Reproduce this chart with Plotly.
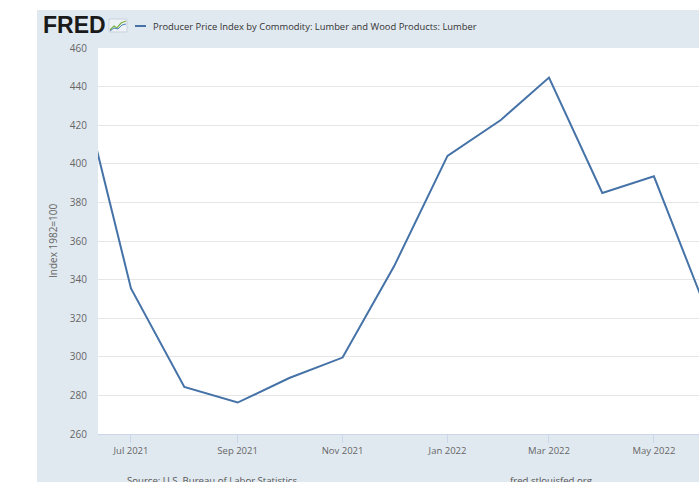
import plotly.graph_objects as go

# ---- data ----
dates = ["2021-06-01", "2021-07-01", "2021-08-01", "2021-09-01", "2021-10-01",
         "2021-11-01", "2021-12-01", "2022-01-01", "2022-02-01", "2022-03-01",
         "2022-04-01", "2022-05-01", "2022-06-01"]
values = [444.0, 335.4, 284.4, 276.3, 289.0, 299.6, 347.0, 404.1, 422.7, 444.7,
          384.9, 393.5, 323.0]
series_name = "Producer Price Index by Commodity: Lumber and Wood Products: Lumber"
y_title = "Index 1982=100"
source_text = "Source: U.S. Bureau of Labor Statistics"
site_text = "fred.stlouisfed.org"

W, H = 699, 482
L, R, T, B = 98, 0, 48, 48
PW, PH = W - L - R, H - T - B

def px(x):
    return (x - L) / PW

def py(y):
    return (H - B - y) / PH

BG = "#e1e9f0"
LINE = "#4572a7"
TXT = "#666666"
FONT = "Open Sans"

fig = go.Figure()
fig.add_trace(go.Scatter(x=dates, y=values, mode="lines",
                         line=dict(color=LINE, width=2), name=series_name,
                         showlegend=False, cliponaxis=True))

shapes = [
    # white border strips outside the FRED panel
    dict(type="rect", xref="paper", yref="paper", x0=px(0), x1=px(37), y0=py(H), y1=py(0),
         fillcolor="white", line=dict(width=0), layer="above"),
    dict(type="rect", xref="paper", yref="paper", x0=px(0), x1=px(W), y0=py(10), y1=py(0),
         fillcolor="white", line=dict(width=0), layer="above"),
    # legend line sample
    dict(type="line", xref="paper", yref="paper", x0=px(135), x1=px(146), y0=py(26), y1=py(26),
         line=dict(color=LINE, width=2)),
    # FRED icon
    dict(type="rect", xref="paper", yref="paper", x0=px(109), x1=px(127), y0=py(32), y1=py(19),
         fillcolor="#eef2f6", line=dict(color="#c9d3dd", width=1)),
    dict(type="path", xref="paper", yref="paper",
         path=f"M {px(110)} {py(30)} L {px(114)} {py(26)} L {px(117)} {py(28)} L {px(121)} {py(23)} L {px(126)} {py(21)}",
         line=dict(color="#7cb342", width=1.3)),
    dict(type="path", xref="paper", yref="paper",
         path=f"M {px(110)} {py(31)} L {px(114)} {py(28)} L {px(118)} {py(29)} L {px(122)} {py(25)} L {px(126)} {py(24)}",
         line=dict(color="#4f81bd", width=1)),
]

annotations = [
    dict(text="<b>FRED</b>", xref="paper", yref="paper", x=px(41), y=py(25),
         xanchor="left", yanchor="middle", showarrow=False,
         font=dict(family="Liberation Sans", size=23, color="#1a1a1a")),
    dict(text=series_name, xref="paper", yref="paper", x=px(151), y=py(26),
         xanchor="left", yanchor="middle", showarrow=False,
         font=dict(family=FONT, size=9.4, color="#333333")),
    dict(text=y_title, xref="paper", yref="paper", x=px(53), y=py(241),
         xanchor="center", yanchor="middle", showarrow=False, textangle=-90,
         font=dict(family=FONT, size=10, color=TXT)),
    dict(text=source_text, xref="paper", yref="paper", x=px(125), y=py(472),
         xanchor="left", yanchor="top", showarrow=False,
         font=dict(family=FONT, size=9.6, color="#555555")),
    dict(text=site_text, xref="paper", yref="paper", x=px(508), y=py(472),
         xanchor="left", yanchor="top", showarrow=False,
         font=dict(family=FONT, size=9.6, color="#555555")),
]

fig.update_layout(
    width=W, height=H,
    margin=dict(l=L, r=R, t=T, b=B, pad=0),
    paper_bgcolor=BG, plot_bgcolor="white",
    font=dict(family=FONT, size=10, color=TXT),
    shapes=shapes, annotations=annotations,
    showlegend=False,
)
fig.update_xaxes(
    type="date", range=["2021-06-11 19:40", "2022-05-27 05:00"],
    tick0="2021-07-01", dtick="M2", tickformat="%b %Y",
    ticks="outside", ticklen=8, tickcolor="#ccd6eb", tickwidth=1,
    showgrid=False, showline=True, linecolor="#ccd6eb", linewidth=1,
    tickfont=dict(family=FONT, size=9.5, color=TXT), zeroline=False,
)
fig.update_yaxes(
    range=[260, 460], tick0=260, dtick=20,
    showgrid=True, gridcolor="#e6e6e6", gridwidth=1,
    zeroline=False, showline=False, ticks="",
    ticklabelstandoff=10,
    tickfont=dict(family=FONT, size=10, color=TXT),
)

fig.write_html("out.html")
